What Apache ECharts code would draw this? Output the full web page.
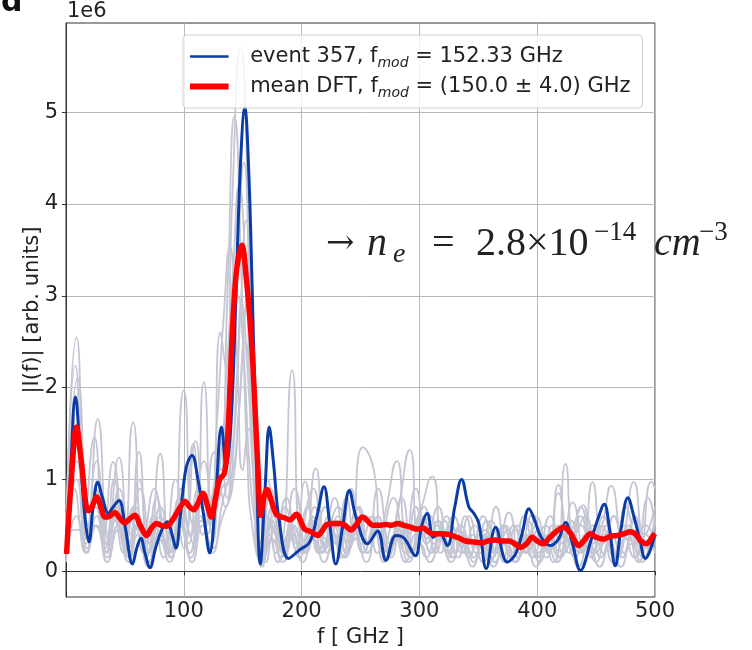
<!DOCTYPE html>
<html>
<head>
<meta charset="utf-8">
<script src="https://cdn.jsdelivr.net/npm/echarts@6/dist/echarts.min.js"></script>
<style>
  html, body { margin: 0; padding: 0; background: #fff; }
  #chart { width: 752px; height: 650px; }
</style>
</head>
<body>
<div id="chart"></div>
<script>
(function() {

  // axis ticks (|I(f)| in units of 1e6)
  var xTicks = [100, 200, 300, 400, 500];
  var yTicks = [0, 1, 2, 3, 4, 5];

  // event 357 : [f GHz, |I(f)| / 1e6]
  var eventDft = [[0.5,0.19],[4,1.1],[8,1.9],[12,1.3],[16,0.6],[19.5,0.32],[23,0.7],[27,0.97],[31,0.8],[36,0.63],[40,0.7],[45,0.77],[50,0.5],[56.5,0.08],[60,0.25],[63.6,0.36],[67,0.2],[71.3,0.04],[76,0.25],[81,0.44],[86,0.54],[90,0.4],[93.3,0.25],[97,0.6],[102,1.13],[107,1.26],[112,1.0],[117,0.6],[122,0.2],[127,0.8],[132,1.57],[136,1.15],[140,1.6],[144,2.9],[148,4.4],[151.8,5.05],[155,4.4],[158,3.1],[161,1.6],[165,0.08],[169,0.9],[172.5,1.57],[176,1.2],[181,0.55],[189,0.14],[198,0.23],[207,0.32],[213,0.6],[219,0.92],[224,0.5],[229,0.08],[235,0.5],[240.5,0.88],[246,0.6],[256,0.3],[264.5,0.44],[271.6,0.12],[280,0.39],[287,0.36],[296.5,0.17],[302,0.5],[306.7,0.63],[311.8,0.37],[317,0.42],[323.7,0.28],[330,0.7],[335.8,1.0],[342,0.7],[346.3,0.63],[350.5,0.52],[356.8,0.03],[364.7,0.48],[374.6,0.10],[381.7,0.19],[387,0.4],[393,0.68],[398,0.55],[403,0.38],[411,0.28],[418,0.35],[424,0.53],[430,0.3],[436.6,0.01],[446,0.35],[451,0.55],[457,0.73],[461,0.5],[466.3,0.06],[471,0.45],[477,0.8],[482,0.6],[487,0.35],[491.8,0.14],[500,0.4]];

  // mean DFT
  var meanDft = [[0.5,0.19],[4,0.9],[9,1.57],[13,1.2],[18.9,0.66],[22,0.7],[26,0.81],[30,0.68],[33,0.59],[37,0.6],[41.5,0.64],[46,0.57],[50,0.53],[54,0.57],[58.5,0.61],[63,0.5],[68.4,0.39],[72,0.46],[76.9,0.52],[81,0.5],[85.4,0.49],[90,0.55],[93.9,0.63],[97,0.7],[101,0.76],[105,0.7],[108.5,0.67],[112,0.74],[116.2,0.85],[120,0.72],[123.3,0.59],[127,0.8],[130.4,1.0],[134.6,1.07],[137,1.4],[139.5,2.1],[141.7,2.73],[145,3.3],[149.3,3.55],[153,3.2],[157.3,2.54],[160,1.9],[163,1.1],[165.2,0.61],[168,0.8],[170.6,0.89],[174,0.78],[178,0.63],[181.3,0.6],[186,0.58],[190,0.56],[195.5,0.62],[202.5,0.46],[208,0.43],[213.7,0.39],[218,0.45],[221.5,0.51],[227,0.52],[233.4,0.52],[237,0.5],[241.9,0.45],[246,0.5],[251.8,0.59],[256,0.55],[260.3,0.5],[266,0.5],[271.6,0.51],[276,0.5],[281.5,0.52],[287,0.5],[292.8,0.48],[297,0.46],[302.7,0.47],[311,0.41],[318,0.41],[325,0.40],[332,0.37],[339.2,0.33],[346,0.32],[353.4,0.31],[358,0.33],[364.7,0.34],[370,0.33],[376,0.33],[381,0.3],[385.9,0.26],[391,0.3],[395.8,0.37],[400,0.33],[405.4,0.30],[410,0.36],[416,0.43],[422.4,0.48],[428,0.42],[432,0.33],[435.2,0.28],[440,0.34],[445,0.41],[450,0.37],[456.4,0.35],[462,0.38],[468,0.39],[474,0.41],[479,0.43],[484,0.4],[488,0.33],[493,0.30],[498,0.38],[500,0.41]];

  // other single events (grey), peaks and troughs
  var greyA = [[0,0.2],[9,2.55],[18,0.4],[26,1.2],[35,0.3],[44,0.8],[53,0.15],[62,1.0],[71,0.2],[80,0.7],[89,0.15],[100,1.97],[108,0.5],[117,1.2],[124,0.6],[131,2.6],[136,2.2],[141,4.0],[148,5.7],[155,3.9],[160,1.6],[166,0.05],[174,0.9],[182,0.3],[192,2.19],[200,0.4],[210,0.9],[219,0.3],[228,0.8],[238,0.2],[247,0.7],[256,0.3],[265,0.9],[275,0.3],[285,0.8],[294,0.25],[304,0.7],[314,0.2],[323,0.6],[333,0.15],[342,0.6],[352,0.2],[361,0.55],[371,0.15],[380,0.5],[390,0.2],[399,0.6],[409,0.2],[418,0.85],[428,0.3],[437,0.7],[447,0.2],[456,0.6],[466,0.15],[475,0.7],[485,0.3],[494,0.8],[500,0.5]];
  var greyB = [[0,0.35],[8,2.24],[16,0.6],[24,1.46],[32,0.4],[40,1.19],[49,0.3],[57,1.62],[66,0.35],[75,0.9],[84,0.3],[93,1.0],[101,0.4],[110,1.42],[118,0.6],[126,1.3],[131,1.1],[137,3.0],[143,4.95],[149,3.2],[154,1.2],[159,0.4],[166,0.1],[175,0.7],[184,0.3],[194,0.9],[203,0.3],[212,1.12],[221,0.35],[231,0.7],[241,0.3],[252,1.35],[261,1.12],[268,0.4],[278,0.8],[287,0.3],[297,0.9],[306,0.35],[316,0.7],[325,0.2],[335,0.5],[344,0.3],[354,0.6],[363,0.2],[373,0.5],[382,0.25],[392,0.55],[401,0.2],[411,0.6],[420,0.3],[430,0.75],[439,0.2],[447,0.97],[456,0.3],[465,0.6],[474,0.2],[483,0.55],[492,0.3],[500,0.6]];
  var greyC = [[0,0.25],[10,2.1],[19,0.5],[27,1.66],[36,0.4],[45,1.24],[54,0.4],[63,0.9],[71,0.3],[80,1.28],[88,0.35],[96,0.8],[104,0.3],[112,0.9],[120,0.4],[128,1.0],[135,0.7],[141,1.8],[146,3.4],[151,4.45],[156,3.0],[161,1.3],[165,0.3],[171,0.6],[178,0.2],[186,0.7],[195,0.25],[203,0.98],[212,0.4],[220,0.7],[229,0.3],[238,0.8],[246,0.35],[255,0.6],[264,0.2],[272,0.7],[281,1.2],[290,0.4],[299,0.6],[311,1.03],[320,0.4],[329,0.6],[338,0.2],[347,0.5],[356,0.3],[365,0.7],[374,0.3],[383,0.5],[392,0.2],[401,0.45],[410,0.2],[418,0.94],[428,0.35],[437,0.5],[446,0.2],[455,0.5],[463,0.93],[472,0.4],[482,0.97],[491,0.4],[500,0.7]];
  var greyD = [[0,0.5],[9,1.5],[17,0.3],[25,0.9],[34,0.2],[41,1.0],[50,0.3],[59,0.7],[68,0.15],[77,0.8],[86,0.2],[95,0.7],[108,0.3],[117,2.06],[124,0.4],[131,1.4],[137,0.8],[143,1.5],[148,2.8],[153,3.82],[158,2.6],[162,1.7],[166,0.6],[171,1.0],[178,0.4],[187,0.8],[196,0.3],[205,0.7],[214,0.2],[223,0.6],[232,0.25],[242,0.9],[251,0.3],[260,0.6],[269,0.2],[278,0.5],[288,0.2],[297,0.7],[306,0.3],[316,0.55],[325,0.15],[334,0.45],[343,0.2],[352,0.4],[362,0.15],[371,0.5],[380,0.2],[389,0.6],[398,0.3],[407,0.5],[416,0.2],[424,1.17],[432,0.4],[441,0.6],[450,0.2],[459,0.5],[468,0.15],[477,0.5],[486,0.2],[497,0.98],[500,0.9]];
  var greyE = [[0,0.45],[9,1.2],[18,0.25],[27,0.8],[36,0.35],[45,0.9],[54,0.2],[62,1.3],[71,0.3],[80,0.6],[89,0.2],[98,0.9],[106,0.4],[115,0.8],[122,0.5],[128,1.6],[134,2.8],[139,3.53],[145,2.4],[150,1.1],[155,1.55],[160,0.9],[166,0.2],[174,0.5],[183,0.15],[191,0.5],[200,0.2],[209,0.6],[218,0.2],[227,0.5],[236,0.15],[245,0.6],[253,0.2],[262,0.5],[272,0.15],[281,0.6],[292,1.32],[300,0.4],[309,0.6],[318,0.2],[327,0.5],[336,0.2],[345,0.4],[354,0.1],[363,0.35],[372,0.1],[381,0.45],[390,0.2],[399,0.5],[408,0.15],[418,0.5],[427,0.2],[437,0.6],[446,0.15],[455,0.5],[464,0.1],[473,0.4],[483,0.15],[492,0.4],[500,0.2]];
  var greyF = [[0,0.3],[7,0.9],[16,0.35],[25,0.7],[33,0.25],[40,0.6],[49,0.2],[57,0.7],[66,0.2],[74,0.6],[83,0.15],[92,0.6],[100,0.25],[108,1.39],[116,0.4],[124,0.8],[131,1.2],[137,2.3],[142,3.3],[147,4.2],[152,3.4],[157,1.8],[162,0.5],[168,0.15],[176,0.6],[185,0.2],[193,0.5],[202,0.2],[211,0.7],[220,0.3],[229,0.55],[238,0.2],[247,0.5],[256,0.2],[265,0.6],[274,0.25],[283,0.5],[292,0.2],[301,0.6],[310,0.2],[319,0.4],[328,0.15],[337,0.4],[346,0.1],[356,0.45],[365,0.2],[376,0.64],[385,0.2],[396,0.62],[405,0.25],[413,0.5],[422,0.2],[431,0.5],[439,0.72],[447,0.3],[456,0.4],[465,0.15],[474,0.5],[483,0.3],[492,0.5],[500,0.3]];
  var greyG = [[0,0.2],[9,1.4],[18,0.35],[27,1.0],[35,0.2],[44,0.7],[53,0.25],[62,0.5],[70,0.1],[79,0.5],[88,0.2],[97,0.6],[105,0.2],[114,0.7],[123,0.3],[132,0.9],[140,1.0],[146,1.6],[151,2.6],[155,3.2],[160,2.2],[165,0.8],[170,0.1],[178,0.5],[186,0.2],[195,0.6],[204,0.2],[213,0.5],[222,0.2],[231,0.6],[240,0.25],[249,0.7],[258,0.3],[267,0.5],[276,0.15],[285,0.55],[294,0.2],[303,0.6],[312,0.3],[321,0.55],[330,0.2],[339,0.6],[348,0.2],[357,0.55],[366,0.2],[375,0.45],[384,0.15],[393,0.4],[402,0.1],[411,0.4],[420,0.15],[429,0.55],[438,0.2],[447,0.5],[456,0.2],[465,0.6],[474,0.2],[483,0.6],[492,0.25],[500,0.55]];
  var greyH = [[0,0.3],[9,1.0],[18,0.2],[26,0.6],[35,0.15],[44,0.5],[53,0.15],[62,0.55],[71,0.1],[80,0.45],[89,0.15],[98,0.5],[107,0.1],[116,0.5],[124,0.2],[132,0.7],[140,1.2],[145,2.1],[149,2.9],[154,2.2],[159,1.0],[164,0.2],[172,0.4],[180,0.1],[189,0.4],[198,0.15],[207,0.5],[216,0.2],[225,0.45],[234,0.15],[243,0.5],[252,0.2],[261,0.45],[270,0.1],[279,0.4],[288,0.1],[297,0.4],[306,0.15],[315,0.5],[324,0.2],[333,0.45],[342,0.15],[351,0.4],[360,0.1],[369,0.35],[378,0.15],[387,0.4],[396,0.15],[405,0.35],[414,0.1],[423,0.4],[432,0.15],[441,0.4],[450,0.1],[459,0.35],[468,0.15],[477,0.4],[486,0.1],[495,0.35],[500,0.2]];
  var greyI = [[0,0.1],[9,0.6],[17,0.2],[26,0.5],[35,0.1],[44,0.45],[53,0.1],[61,0.4],[70,0.05],[79,0.35],[88,0.1],[97,0.5],[106,0.15],[115,0.55],[124,0.25],[133,0.6],[141,0.9],[147,1.8],[152,2.5],[157,1.9],[162,0.8],[167,0.05],[175,0.35],[184,0.1],[193,0.4],[201,0.1],[210,0.35],[219,0.1],[228,0.4],[237,0.15],[246,0.35],[255,0.1],[264,0.4],[273,0.15],[282,0.35],[291,0.1],[300,0.3],[309,0.1],[318,0.35],[327,0.1],[336,0.3],[345,0.05],[354,0.3],[363,0.05],[372,0.3],[381,0.1],[390,0.3],[399,0.05],[408,0.3],[417,0.1],[426,0.35],[435,0.05],[444,0.3],[453,0.05],[462,0.3],[471,0.05],[480,0.3],[489,0.1],[498,0.3],[500,0.3]];
  var greyJ = [[0,0.4],[8,0.45],[16,0.45],[24,0.5],[33,0.3],[42,0.55],[51,0.25],[60,0.5],[69,0.2],[78,0.5],[87,0.2],[96,0.55],[105,0.2],[114,0.6],[122,0.3],[130,0.9],[137,1.3],[142,2.2],[146,3.0],[151,2.3],[156,1.1],[161,0.5],[167,0.2],[175,0.55],[184,0.2],[193,0.5],[202,0.2],[211,0.55],[220,0.25],[229,0.5],[238,0.2],[247,0.55],[256,0.2],[265,0.5],[274,0.2],[283,0.45],[292,0.15],[301,0.5],[310,0.2],[319,0.45],[328,0.15],[337,0.4],[346,0.15],[355,0.4],[364,0.1],[373,0.35],[382,0.1],[391,0.4],[400,0.15],[409,0.4],[418,0.15],[427,0.45],[436,0.2],[445,0.45],[454,0.15],[463,0.4],[472,0.15],[481,0.4],[490,0.15],[500,0.4]];

  var greyRuns = [greyA, greyB, greyC, greyD, greyE, greyF, greyG, greyH, greyI, greyJ];

  var legendText = {
    'event': '  event 357, f{sub|mod} = 152.33 GHz',
    'mean': '  mean DFT, f{sub|mod} = (150.0 ± 4.0) GHz'
  };

  var font = 'DejaVu Sans';
  var serif = 'Liberation Serif';
  var fs = 21;

  var chartDom = document.getElementById('chart');
  var chart = echarts.init(chartDom, null, { renderer: 'canvas' });

  var series = [];
  for (var i = 0; i < greyRuns.length; i++) {
    series.push({
      name: 'run' + i,
      type: 'line',
      data: greyRuns[i],
      smooth: 0.6,
      symbol: 'none',
      silent: true,
      animation: false,
      lineStyle: { color: '#c5c6d4', width: 1.8 },
      z: 2
    });
  }
  series.push({
    name: 'event',
    type: 'line',
    data: eventDft,
    smooth: 0.4,
    symbol: 'none',
    animation: false,
    color: '#0b3ca6',
    lineStyle: { color: '#0b3ca6', width: 3 },
    z: 3
  });
  series.push({
    name: 'mean',
    type: 'line',
    data: meanDft,
    smooth: 0.35,
    symbol: 'none',
    animation: false,
    color: '#ff0000',
    lineStyle: { color: '#ff0000', width: 5.5 },
    z: 4
  });

  // legend handles: a plain bar (tiny corner marks keep the bar thickness)
  var thinBar = 'path://M0,2L45,2L45,5L0,5Z M0,0L0.01,0L0,0.01Z M0,7L0.01,7L0,6.99Z';
  var thickBar = 'path://M0,0L45,0L45,7L0,7Z';

  var option = {
    backgroundColor: '#fff',
    animation: false,
    grid: {
      left: 66, right: 97, top: 23, bottom: 53,
      show: true, borderColor: '#333', borderWidth: 1,
      containLabel: false, outerBoundsMode: 'none'
    },
    legend: {
      data: [{ name: 'event', icon: thinBar }, { name: 'mean', icon: thickBar }],
      orient: 'vertical',
      left: 183, top: 35,
      padding: [8, 12, 8, 7],
      itemGap: 3,
      itemWidth: 45, itemHeight: 6,
      backgroundColor: 'rgba(255,255,255,0.8)',
      borderColor: '#d0d0d0', borderWidth: 1, borderRadius: 4,
      selectedMode: false,
      formatter: function(name) { return legendText[name]; },
      textStyle: {
        fontFamily: font, fontSize: fs, color: '#222', lineHeight: 27,
        rich: {
          sub: { fontFamily: font, fontSize: 14, fontStyle: 'italic', color: '#222', lineHeight: 12, verticalAlign: 'bottom' }
        }
      }
    },
    xAxis: {
      type: 'value',
      min: 0, max: 500, interval: 100,
      name: 'f [ GHz ]',
      nameLocation: 'middle',
      nameGap: 30,
      nameMoveOverlap: false,
      nameTextStyle: { fontFamily: font, fontSize: fs, color: '#222' },
      axisLine: { show: true, lineStyle: { color: '#333', width: 1 } },
      axisTick: { show: true, inside: false, length: 4, lineStyle: { color: '#333' } },
      axisLabel: { showMinLabel: false, margin: 4, fontFamily: font, fontSize: fs, color: '#222' },
      splitLine: { show: true, lineStyle: { color: '#b8b8b8', width: 1 } }
    },
    yAxis: {
      type: 'value',
      min: -0.28, max: 5.97,
      name: '|I(f)| [arb. units]',
      nameLocation: 'middle',
      nameGap: 23,
      nameMoveOverlap: false,
      nameRotate: 90,
      nameTextStyle: { fontFamily: font, fontSize: fs, color: '#222' },
      axisLine: { show: true, onZero: false, lineStyle: { color: '#333', width: 1 } },
      axisTick: { show: true, inside: false, length: 4, customValues: yTicks, lineStyle: { color: '#333' } },
      axisLabel: { customValues: yTicks, margin: 8, fontFamily: font, fontSize: fs, color: '#222' },
      splitLine: { show: true, lineStyle: { color: '#b8b8b8', width: 1 } }
    },
    graphic: [
      {
        type: 'text', left: 1, top: -12, silent: true,
        style: { text: 'd', fontFamily: font, fontWeight: 'bold', fontSize: 30, fill: '#111' }
      },
      {
        type: 'text', left: 67, top: 1, silent: true,
        style: { text: '1e6', fontFamily: font, fontSize: fs, fill: '#222' }
      },
      {
        type: 'text', left: 326, top: 219, silent: true, z: 10,
        style: {
          text: '{ar|→}{n|n}{e|e}{eq|=}{num|2.8×10}{sup|−14}{cm|cm}{sup|−3}',
          fill: '#222',
          rich: {
            ar: { fontFamily: 'DejaVu Serif', fontSize: 34, width: 41, lineHeight: 50, fill: '#222' },
            n: { fontFamily: serif, fontSize: 40, fontStyle: 'italic', width: 26, lineHeight: 50, fill: '#222' },
            e: { fontFamily: serif, fontSize: 28, fontStyle: 'italic', width: 39, lineHeight: 12, verticalAlign: 'bottom', fill: '#222' },
            eq: { fontFamily: serif, fontSize: 40, width: 44, lineHeight: 50, fill: '#222' },
            num: { fontFamily: serif, fontSize: 40, width: 118, lineHeight: 50, fill: '#222' },
            sup: { fontFamily: serif, fontSize: 27, width: 60, lineHeight: 38, verticalAlign: 'top', fill: '#222' },
            cm: { fontFamily: serif, fontSize: 40, fontStyle: 'italic', width: 45, lineHeight: 50, fill: '#222' }
          }
        }
      }
    ],
    series: series
  };

  chart.setOption(option);

})();
</script>
</body>
</html>
